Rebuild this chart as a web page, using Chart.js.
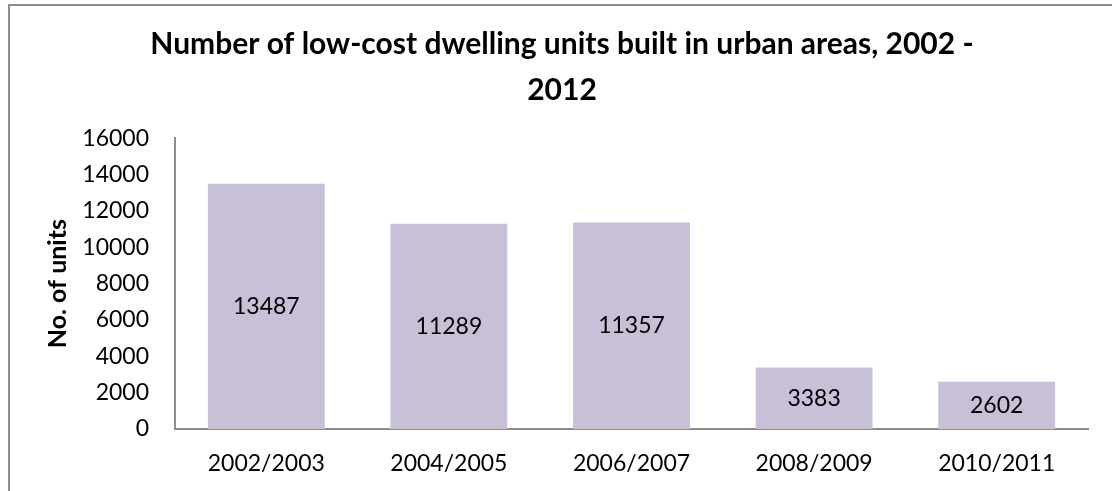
<!DOCTYPE html>
<html>
<head>
<meta charset="utf-8">
<script src="https://cdn.jsdelivr.net/npm/chart.js@4/dist/chart.umd.min.js"></script>
<style>
  html, body { margin: 0; padding: 0; background: #fff; }
  #wrap { position: relative; width: 1112px; height: 491px; overflow: hidden; }
  #frame { position: absolute; left: 8px; top: 4px; width: 1200px; height: 600px;
           border-left: 2px solid #8c8c8c; border-top: 2px solid #8c8c8c; }
  canvas { position: absolute; left: 0; top: 0; }
</style>
</head>
<body>
<div id="wrap">
  <div id="frame"></div>
  <canvas id="chart" width="1112" height="491"></canvas>
</div>
<script>
const categories = ['2002/2003', '2004/2005', '2006/2007', '2008/2009', '2010/2011'];
const units = [13487, 11289, 11357, 3383, 2602];
const yTicks = [0, 2000, 4000, 6000, 8000, 10000, 12000, 14000, 16000];

const fontFamily = 'Lato, "Liberation Sans", sans-serif';

// writes each value in the middle of its bar
const barLabels = {
    id: 'barLabels',
    afterDatasetsDraw(chart) {
        const ctx = chart.ctx;
        const meta = chart.getDatasetMeta(0);
        ctx.save();
        ctx.font = '23px ' + fontFamily;
        ctx.fillStyle = '#000';
        ctx.textAlign = 'center';
        ctx.textBaseline = 'middle';
        meta.data.forEach((bar, i) => {
            ctx.fillText(String(units[i]), bar.x, (bar.y + bar.base) / 2);
        });
        ctx.restore();
    }
};

// title sits a bit right of the canvas centre in the original
const titleShift = {
    id: 'titleShift',
    afterLayout(chart) {
        if (chart.titleBlock) {
            chart.titleBlock.left += 18;
            chart.titleBlock.right += 18;
        }
    }
};

const ctx = document.getElementById('chart').getContext('2d');
const myChart = new Chart(ctx, {
    type: 'bar',
    data: {
        labels: categories,
        datasets: [{
            data: units,
            backgroundColor: '#c8c0d7',
            borderWidth: 0,
            categoryPercentage: 1,
            barPercentage: 0.64
        }]
    },
    options: {
        responsive: false,
        animation: false,
        layout: { padding: { left: 0, right: 24, top: 0, bottom: 0 } },
        plugins: {
            legend: { display: false },
            tooltip: { enabled: false },
            title: {
                display: true,
                text: ['Number of low-cost dwelling units built in urban areas, 2002 -', '2012'],
                color: '#000',
                font: { family: fontFamily, size: 30, weight: 'bold', lineHeight: 1.52 },
                padding: { top: 22, bottom: 25 }
            }
        },
        scales: {
            x: {
                grid: { display: false, drawTicks: false },
                border: { display: true, color: '#8c8c8c', width: 2 },
                ticks: { color: '#000', padding: 21, font: { family: fontFamily, size: 23 } },
                afterFit(scale) { scale.height = 62; }
            },
            y: {
                min: 0,
                max: 16000,
                grid: { display: false, drawTicks: false },
                border: { display: true, color: '#8c8c8c', width: 2 },
                afterBuildTicks(scale) { scale.ticks = yTicks.map(v => ({ value: v })); },
                ticks: {
                    color: '#000',
                    padding: 26,
                    font: { family: fontFamily, size: 23 },
                    callback: (v) => String(v)
                },
                title: {
                    display: true,
                    text: 'No. of units',
                    color: '#000',
                    font: { family: fontFamily, size: 25, weight: 'bold' },
                    padding: { top: 43 }
                },
                afterFit(scale) { scale.width = 175; }
            }
        }
    },
    plugins: [barLabels, titleShift]
});
</script>
</body>
</html>
